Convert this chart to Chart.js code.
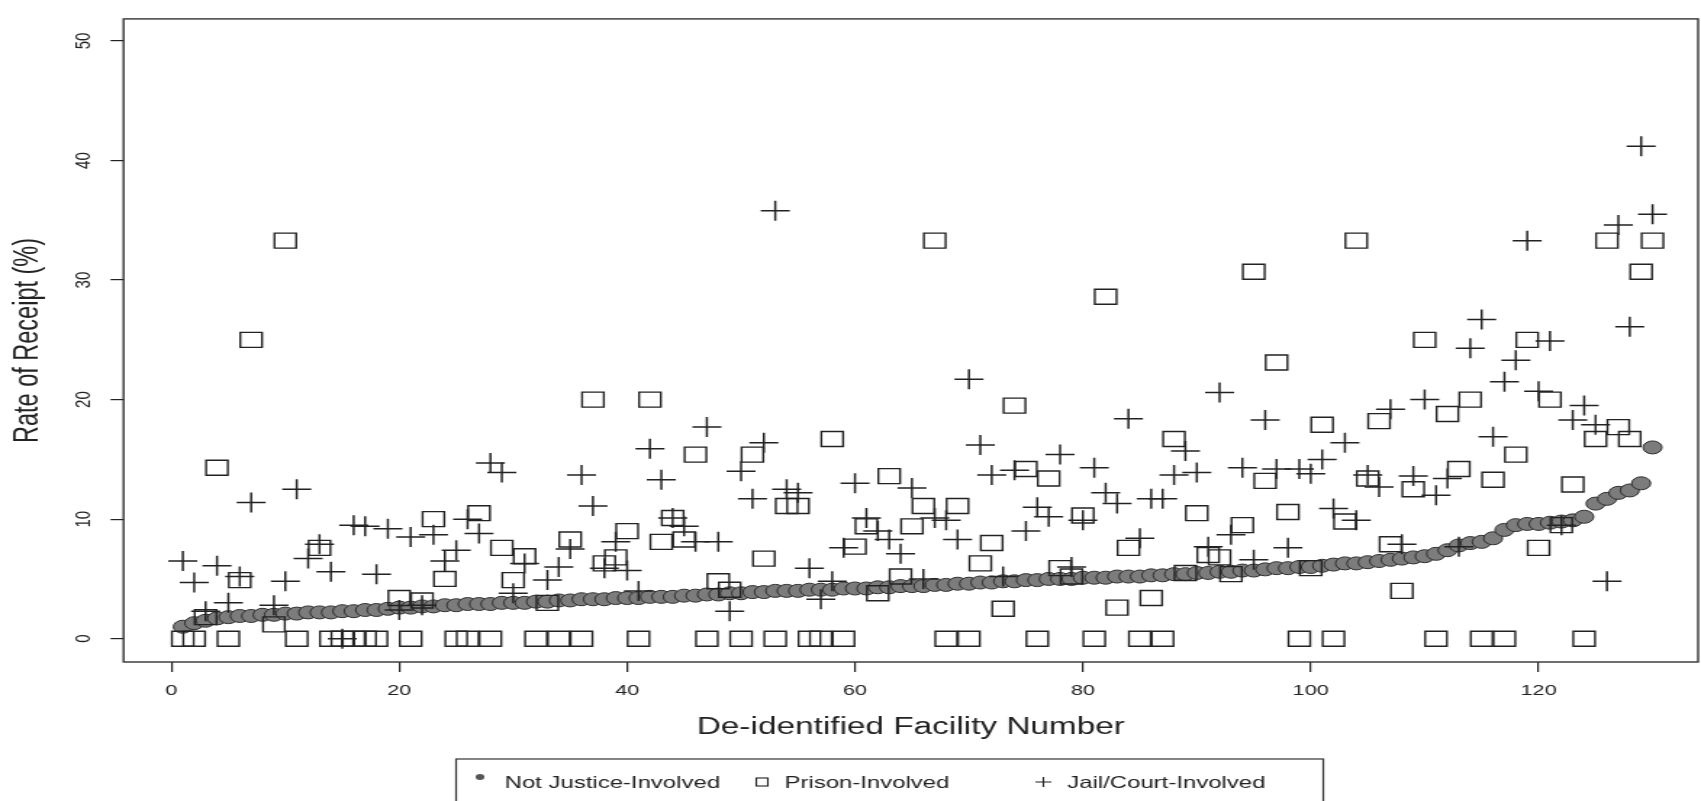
<!DOCTYPE html>
<html>
<head>
<meta charset="utf-8">
<title>Rate of Receipt by Facility</title>
<script src="https://cdn.jsdelivr.net/npm/chart.js@4.4.1/dist/chart.umd.min.js"></script>
<style>
  html, body { margin: 0; padding: 0; background: #fff; }
  /* the original figure is stretched sideways, so the canvas is drawn narrow and widened by css */
  #receiptChart { display: block; width: 1701px !important; height: 801px !important; }
</style>
</head>
<body>
<canvas id="receiptChart" width="1173" height="801" style="width:1701px;height:801px"></canvas>
<script>
// De-identified facilities 1..130
const facilities = Array.from({ length: 130 }, (_, k) => k + 1);

// Not justice-involved rate (%), facilities are numbered by this rate
const notJusticeRate = [
  1.0, 1.3, 1.5, 1.7, 1.8, 1.9, 1.9, 2.0, 2.0, 2.1,
  2.1, 2.2, 2.2, 2.2, 2.3, 2.3, 2.4, 2.4, 2.5, 2.6,
  2.6, 2.7, 2.7, 2.8, 2.8, 2.9, 2.9, 2.9, 3.0, 3.0,
  3.0, 3.1, 3.1, 3.2, 3.2, 3.3, 3.3, 3.3, 3.4, 3.4,
  3.4, 3.5, 3.5, 3.5, 3.6, 3.6, 3.7, 3.7, 3.8, 3.8,
  3.9, 3.9, 4.0, 4.0, 4.0, 4.1, 4.1, 4.1, 4.2, 4.2,
  4.2, 4.3, 4.3, 4.4, 4.4, 4.4, 4.5, 4.5, 4.6, 4.6,
  4.7, 4.7, 4.8, 4.8, 4.9, 4.9, 5.0, 5.0, 5.0, 5.1,
  5.1, 5.1, 5.2, 5.2, 5.2, 5.3, 5.3, 5.4, 5.4, 5.5,
  5.5, 5.6, 5.6, 5.7, 5.7, 5.8, 5.9, 5.9, 6.0, 6.0,
  6.1, 6.2, 6.3, 6.3, 6.4, 6.5, 6.6, 6.7, 6.8, 6.9,
  7.1, 7.4, 7.8, 8.0, 8.1, 8.4, 9.1, 9.5, 9.6, 9.6,
  9.7, 9.8, 9.9, 10.2, 11.3, 11.7, 12.2, 12.4, 13.0, 16.0
];

// Prison-involved rate (%), null = no value shown
const prisonRate = [
  0, 0, 1.8, 14.3, 0, 4.9, 25.0, null, 1.2, 33.3,
  0, null, 7.6, 0, 0, 0, 0, 0, null, 3.4,
  0, 3.2, 10.0, 5.0, 0, 0, 10.5, 0, 7.6, 4.9,
  6.9, 0, 3.0, 0, 8.3, 0, 20.0, 6.3, 6.8, 9.0,
  0, 20.0, 8.1, 10.1, 8.3, 15.4, 0, 4.8, 4.1, 0,
  15.4, 6.7, 0, 11.1, 11.1, 0, 0, 16.7, 0, 7.7,
  9.4, 3.8, 13.6, 5.2, 9.4, 11.1, 33.3, 0, 11.1, 0,
  6.3, 8.0, 2.5, 19.5, 14.2, 0, 13.4, 5.9, 5.2, 10.3,
  0, 28.6, 2.6, 7.6, 0, 3.4, 0, 16.7, 5.5, 10.5,
  7.0, 6.8, 5.4, 9.5, 30.7, 13.2, 23.1, 10.6, 0, 5.9,
  17.9, 0, 9.8, 33.3, 13.4, 18.2, 7.9, 4.0, 12.5, 25.0,
  0, 18.8, 14.2, 20.0, 0, 13.3, 0, 15.4, 25.0, 7.6,
  20.0, 9.5, 12.9, 0, 16.7, 33.3, 17.7, 16.7, 30.7, 33.3
];

// Jail/court-involved rate (%)
const jailRate = [
  6.5, 4.7, 2.3, 6.1, 3.0, 5.2, 11.4, null, 2.8, 4.8,
  12.5, 6.7, 7.9, 5.6, 0, 9.5, 9.4, 5.4, 9.2, 2.4,
  8.5, 2.8, 8.7, 6.5, 7.4, 10.0, 8.8, 14.7, 13.9, 3.8,
  6.3, null, 4.9, 6.0, 7.5, 13.7, 11.1, 5.9, 8.1, 5.7,
  4.0, 15.9, 13.3, 10.1, 9.4, 8.1, 17.7, 8.1, 2.3, 14.0,
  11.7, 16.4, 35.8, 12.5, 12.2, 5.9, 3.3, 4.8, 7.6, 13.0,
  10.1, 9.0, 8.3, 7.1, 12.6, 5.0, 10.1, 9.9, 8.3, 21.7,
  16.2, 13.7, 5.2, 14.1, 9.0, 11.0, 10.2, 15.4, 6.0, 9.9,
  14.3, 12.2, 11.3, 18.4, 8.4, 11.7, 11.7, 13.7, 15.7, 13.9,
  7.7, 20.6, 8.7, 14.3, 6.6, 18.3, 14.2, 7.6, 14.2, 13.8,
  15.0, 10.9, 16.4, 9.9, 13.7, 12.7, 19.2, 7.9, 13.6, 20.0,
  12.0, 13.4, 7.7, 24.3, 26.7, 16.9, 21.5, 23.3, 33.3, 20.7,
  24.9, 9.5, 18.3, 19.5, 17.9, 4.8, 34.6, 26.1, 41.2, 35.5
];

// Axis ticks
const xTickValues = [0, 20, 40, 60, 80, 100, 120];
const yTickValues = [0, 10, 20, 30, 40, 50];

const seriesNames = ['Not Justice-Involved', 'Prison-Involved', 'Jail/Court-Involved'];

function toPoints(values) {
  const points = [];
  values.forEach((v, k) => {
    if (v !== null) points.push({ x: facilities[k], y: v });
  });
  return points;
}

const inkColor = '#222';
const fontFamily = "'Liberation Sans', Arial, sans-serif";

// Box around the plot, like R's box()
const plotBox = {
  id: 'plotBox',
  afterDraw(chart) {
    const { ctx, chartArea } = chart;
    ctx.save();
    ctx.strokeStyle = '#333';
    ctx.lineWidth = 1.4;
    ctx.strokeRect(chartArea.left, chartArea.top, chartArea.right - chartArea.left, chartArea.bottom - chartArea.top);
    ctx.restore();
  }
};

// Boxed legend under the axis title
const boxedLegend = {
  id: 'boxedLegend',
  afterDraw(chart) {
    const ctx = chart.ctx;
    const textY = 783;
    ctx.save();
    ctx.strokeStyle = '#333';
    ctx.lineWidth = 1.2;
    ctx.strokeRect(314.5, 759, 598, 80);

    // symbols
    ctx.fillStyle = '#555';
    ctx.beginPath();
    ctx.arc(331, 777, 3, 0, Math.PI * 2);
    ctx.fill();

    ctx.strokeStyle = inkColor;
    ctx.lineWidth = 1.1;
    ctx.strokeRect(521.5, 778, 8, 8);

    ctx.beginPath();
    ctx.moveTo(714, 782); ctx.lineTo(725, 782);
    ctx.moveTo(719.5, 777); ctx.lineTo(719.5, 787);
    ctx.stroke();

    // texts
    ctx.fillStyle = inkColor;
    ctx.font = '16.5px ' + fontFamily;
    ctx.textBaseline = 'middle';
    ctx.fillText(seriesNames[0], 348, textY);
    ctx.fillText(seriesNames[1], 541, textY);
    ctx.fillText(seriesNames[2], 736, textY);
    ctx.restore();
  }
};

const receiptCtx = document.getElementById('receiptChart').getContext('2d');
const receiptChart = new Chart(receiptCtx, {
  type: 'scatter',
  data: {
    datasets: [
      {
        label: seriesNames[0],
        data: toPoints(notJusticeRate),
        pointStyle: 'circle',
        pointRadius: 6.5,
        backgroundColor: '#7c7c7c',
        borderColor: '#2e2e2e',
        borderWidth: 1,
        order: 3
      },
      {
        label: seriesNames[1],
        data: toPoints(prisonRate),
        pointStyle: 'rect',
        pointRadius: 10.6,
        backgroundColor: 'rgba(0,0,0,0)',
        borderColor: inkColor,
        borderWidth: 1.4,
        order: 2
      },
      {
        label: seriesNames[2],
        data: toPoints(jailRate),
        pointStyle: 'cross',
        pointRadius: 10,
        borderColor: inkColor,
        borderWidth: 1.5,
        order: 1
      }
    ]
  },
  options: {
    responsive: false,
    devicePixelRatio: 1,
    animation: false,
    layout: {
      autoPadding: false,
      padding: { top: 12, right: 2, bottom: 39, left: 0 }
    },
    scales: {
      x: {
        type: 'linear',
        min: -4.2,
        max: 134,
        afterFit(scale) { scale.height = 100; },
        afterBuildTicks(scale) { scale.ticks = xTickValues.map(v => ({ value: v })); },
        border: { display: false },
        grid: { drawOnChartArea: false, drawTicks: true, tickLength: 10, color: inkColor, lineWidth: 1.2 },
        ticks: {
          padding: 10,
          minRotation: 0,
          maxRotation: 0,
          color: inkColor,
          font: { family: fontFamily, size: 15 }
        },
        title: {
          display: true,
          text: 'De-identified Facility Number',
          color: inkColor,
          padding: { top: 0, bottom: 21 },
          font: { family: fontFamily, size: 23 }
        }
      },
      y: {
        type: 'linear',
        min: -1.95,
        max: 51.85,
        afterFit(scale) { scale.width = 85.2; },
        afterBuildTicks(scale) { scale.ticks = yTickValues.map(v => ({ value: v })); },
        border: { display: false },
        grid: { drawOnChartArea: false, drawTicks: true, tickLength: 9, color: inkColor, lineWidth: 1.2 },
        ticks: {
          padding: 9.9,
          minRotation: 90,
          maxRotation: 90,
          crossAlign: 'center',
          color: inkColor,
          font: { family: fontFamily, size: 15 }
        },
        title: {
          display: true,
          text: 'Rate of Receipt (%)',
          color: inkColor,
          padding: { top: 5.6, bottom: 0 },
          font: { family: fontFamily, size: 23.5 }
        }
      }
    },
    plugins: {
      legend: { display: false },
      tooltip: { enabled: false }
    }
  },
  plugins: [plotBox, boxedLegend]
});
</script>
</body>
</html>
